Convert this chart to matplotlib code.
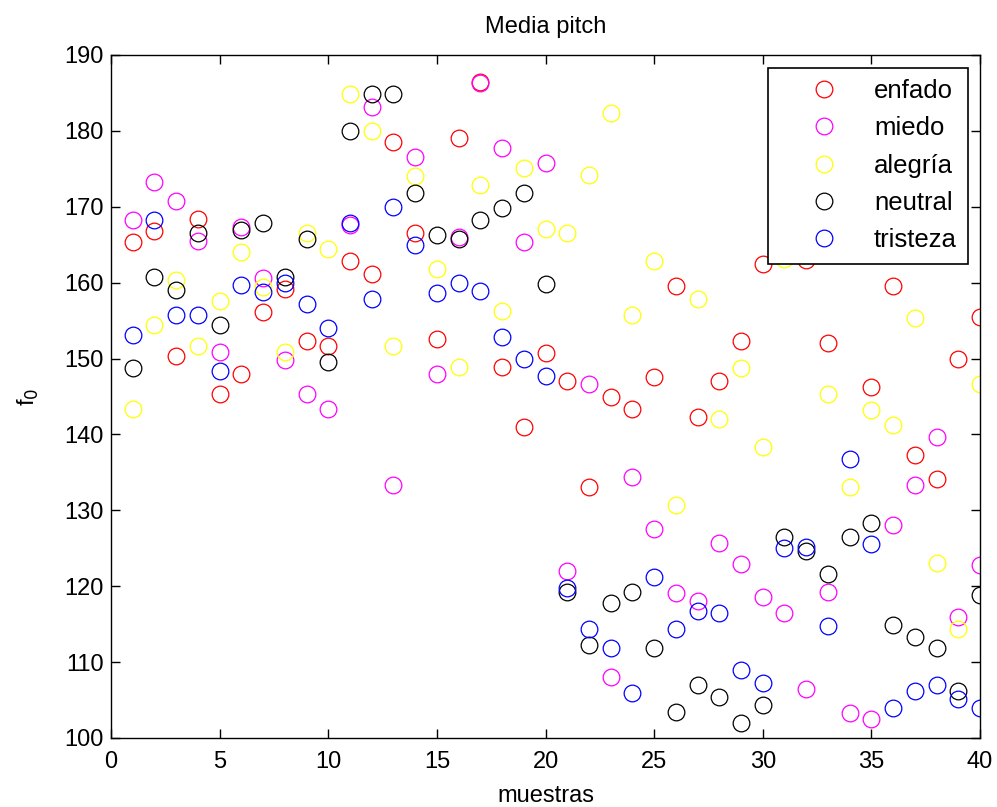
import numpy as np
import matplotlib
matplotlib.use("Agg")
import matplotlib.pyplot as plt

nan = np.nan
muestras = list(range(1, 41))

enfado = [165.3, 166.8, 150.3, 168.4, 145.3, 147.9, 156.1, 159.1, 152.3, 151.6,
          162.9, 161.2, 178.5, 166.6, 152.6, 179.0, 186.4, 148.9, 141.0, 150.7,
          147.1, 133.1, 145.0, 143.4, 147.6, 159.5, 142.3, 147.1, 152.3, 162.4,
          nan, 163.0, 152.1, nan, 146.3, 159.5, 137.3, 134.1, 149.9, 155.5]
miedo = [168.2, 173.2, 170.8, 165.5, 150.8, 167.4, 160.6, 149.8, 145.3, 143.4,
         167.6, 183.2, 133.4, 176.6, 147.9, 166.0, 186.3, 177.7, 165.3, 175.8,
         122.0, 146.6, 108.1, 134.4, 127.6, 119.1, 118.1, 125.7, 122.9, 118.6,
         116.5, 106.5, 119.2, 103.3, 102.5, 128.1, 133.4, 139.7, 116.0, 122.8]
alegria = [143.4, 154.4, 160.3, 151.6, 157.6, 164.0, 159.4, 150.8, 166.6, 164.5,
           184.8, 180.0, 151.6, 174.0, 161.8, 148.9, 172.9, 156.3, 175.1, 167.1,
           166.6, 174.2, 182.4, 155.8, 162.9, 130.7, 157.9, 142.1, 148.7, 138.4,
           163.1, nan, 145.3, 133.1, 143.2, 141.3, 155.3, 123.1, 114.4, 146.6]
neutral = [148.7, 160.8, 159.0, 166.6, 154.4, 167.0, 167.9, 160.7, 165.8, 149.5,
           180.0, 184.8, 184.8, 171.8, 166.3, 165.7, 168.2, 169.8, 171.8, 159.8,
           119.3, 112.3, 117.8, 119.2, 111.8, 103.4, 107.0, 105.4, 102.0, 104.4,
           126.5, 124.7, 121.6, 126.5, 128.3, 114.9, 113.3, 111.8, 106.2, 118.8]
tristeza = [153.1, 168.2, 155.8, 155.8, 148.4, 159.7, 158.8, 160.0, 157.2, 154.0,
            167.9, 157.9, 170.0, 165.0, 158.7, 160.0, 158.9, 152.9, 150.0, 147.7,
            119.7, 114.3, 111.8, 105.9, 121.2, 114.4, 116.7, 116.5, 108.9, 107.3,
            125.0, 125.2, 114.7, 136.8, 125.5, 103.9, 106.2, 107.0, 105.2, 103.9]

series = [("enfado", enfado, "#ff0000"),
          ("miedo", miedo, "#ff00ff"),
          ("alegría", alegria, "#ffff00"),
          ("neutral", neutral, "#000000"),
          ("tristeza", tristeza, "#0000ff")]

plt.rcParams['font.family'] = ['Liberation Sans', 'DejaVu Sans']
FS = 17

fig = plt.figure(figsize=(9.97, 8.07), dpi=100)
ax = fig.add_axes([111/997, 1-738/807, (980-111)/997, (738-55)/807])

for name, vals, col in series:
    ax.plot(muestras, vals, linestyle='none', marker='o', markersize=12,
            markerfacecolor='none', markeredgecolor=col, markeredgewidth=0.9,
            label=name)

ax.set_xlim(0, 40)
ax.set_ylim(100, 190)
ax.set_xticks(range(0, 41, 5))
ax.set_yticks(range(100, 191, 10))
ax.tick_params(direction='in', top=True, right=True, labelsize=FS, length=6.5,
               width=1, pad=5)
ax.tick_params(axis='x', pad=9)
for s in ax.spines.values():
    s.set_linewidth(1.0)
    s.set_color('black')

ax.set_title("Media pitch", fontsize=FS, pad=15.5)
ax.set_xlabel("muestras", fontsize=FS, labelpad=9)
ax.set_ylabel("f$_0$", fontsize=FS, labelpad=17)

leg = ax.legend(loc='upper right', bbox_to_anchor=(0.986, 0.981), fontsize=18.5,
                frameon=True, fancybox=False, framealpha=1, edgecolor='black',
                labelspacing=0.52, handlelength=3.5, handletextpad=0.19,
                borderpad=0.43, borderaxespad=0)
leg.get_frame().set_linewidth(1.2)
leg.set_zorder(10)

fig.savefig("out.png", dpi=100)
